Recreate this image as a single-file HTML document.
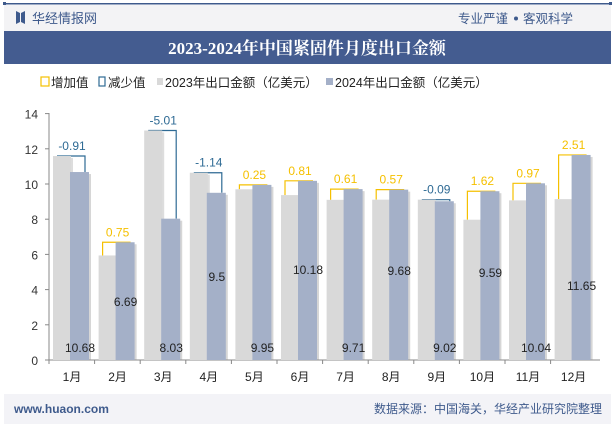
<!DOCTYPE html><html><head><meta charset="utf-8"><style>
body{margin:0;width:615px;height:427px;overflow:hidden;background:#fff;font-family:"Liberation Sans","Noto Sans CJK SC",sans-serif;}
</style></head><body>
<svg width="615" height="427" xmlns="http://www.w3.org/2000/svg" font-family="Liberation Sans, Noto Sans CJK SC, sans-serif">
<rect x="0" y="0" width="615" height="427" fill="#fff"/>
<rect x="4" y="3" width="607" height="1.5" fill="#3e5a8c"/>
<rect x="3" y="2" width="3" height="3" fill="#3e5a8c"/><rect x="609" y="2" width="3" height="3" fill="#3e5a8c"/>
<rect x="4" y="5" width="607" height="26" fill="#f3f3f5"/>
<path d="M16 11 L20 13 L20 22 L16 24Z M21 13 L25 11 L25 24 L21 22Z" fill="#3e5a8c"/>
<text x="32" y="23" font-size="13" fill="#3e5a8c">华经情报网</text>
<text x="508" y="23" font-size="12.5" fill="#3e5a8c" text-anchor="end">专业严谨</text>
<circle cx="516" cy="18.5" r="2" fill="#3e5a8c"/>
<text x="523" y="23" font-size="12.5" fill="#3e5a8c">客观科学</text>
<rect x="4" y="31" width="607" height="33" fill="#445c90"/>
<text x="307" y="54" font-size="17" font-weight="bold" fill="#fff" text-anchor="middle" font-family="Liberation Serif, Noto Serif CJK SC, serif">2023-2024年中国紧固件月度出口金额</text>
<rect x="41" y="77" width="8" height="9" fill="none" stroke="#f5c000" stroke-width="1.2"/>
<text x="51" y="87" font-size="12.5" fill="#222">增加值</text>
<rect x="99" y="77" width="6" height="9" fill="none" stroke="#2e6a94" stroke-width="1.2"/>
<text x="108" y="87" font-size="12.5" fill="#222">减少值</text>
<rect x="157" y="78" width="6" height="7" fill="#d9d9d9"/>
<text x="165" y="87" font-size="12.5" fill="#222">2023年出口金额（亿美元）</text>
<rect x="326" y="78" width="7" height="7" fill="#a4b0c8"/>
<text x="335" y="87" font-size="12.5" fill="#222">2024年出口金额（亿美元）</text>
<g id="chart"></g>
<rect x="4" y="394" width="607" height="30" fill="#f3f3f7"/>
<text x="14" y="413" font-size="12" fill="#3e5a8c" font-weight="bold">www.huaon.com</text>
<text x="602" y="413" font-size="12" fill="#3e5a8c" text-anchor="end">数据来源：中国海关，华经产业研究院整理</text>
</svg>
<script>
const v24=[10.68,6.69,8.03,9.5,9.95,10.18,9.71,9.68,9.02,9.59,10.04,11.65];
const d=[-0.91,0.75,-5.01,-1.14,0.25,0.81,0.61,0.57,-0.09,1.62,0.97,2.51];
const ly=[348,302,348,277,348,270,348,271,348,273,348,286];
const Y=v=>360-v*17.6;
let s='';
for(let i=0;i<=7;i++){const y=Y(i*2);s+=`<text x="38" y="${y+5}" font-size="12" fill="#333" text-anchor="end">${i*2}</text><line x1="45" x2="49" y1="${y}" y2="${y}" stroke="#888"/>`;}
s+=`<line x1="49" y1="113" x2="49" y2="360" stroke="#888"/><line x1="49" y1="360" x2="600" y2="360" stroke="#888"/>`;
for(let i=0;i<12;i++){
 const t=49+i*45.6, a=v24[i]-d[i], b=v24[i];
 s+=`<line x1="${t}" x2="${t}" y1="360" y2="364" stroke="#888"/>`;
 const col=d[i]>0?'#f5c000':'#2e6a94', m=Math.max(a,b);
 s+=`<polyline points="${t+8},${Y(a)} ${t+8},${Y(m)} ${t+36},${Y(m)} ${t+36},${Y(b)}" fill="none" stroke="${col}" stroke-width="1.2"/>`;
 s+=`<rect x="${t+6}" y="${Y(a)+2}" width="18" height="${360-Y(a)-2}" fill="#bbb" opacity="0.5"/>`;
 s+=`<rect x="${t+4}" y="${Y(a)}" width="18" height="${360-Y(a)}" fill="#d9d9d9"/>`;
 s+=`<rect x="${t+23}" y="${Y(b)+2}" width="19" height="${360-Y(b)-2}" fill="#999" opacity="0.4"/>`;
 s+=`<rect x="${t+21}" y="${Y(b)}" width="19" height="${360-Y(b)}" fill="#a4b0c8"/>`;
 s+=`<text x="${t+23}" y="${Y(m)-6}" font-size="12" fill="${col}" text-anchor="middle">${d[i].toFixed(2)}</text>`;
 s+=`<text x="${t+31}" y="${ly[i]+4}" font-size="12" fill="#222" text-anchor="middle">${b}</text>`;
 s+=`<text x="${t+23}" y="381" font-size="12" fill="#222" text-anchor="middle">${i+1}月</text>`;
}
document.getElementById('chart').innerHTML=s;
</script>
</body></html>
